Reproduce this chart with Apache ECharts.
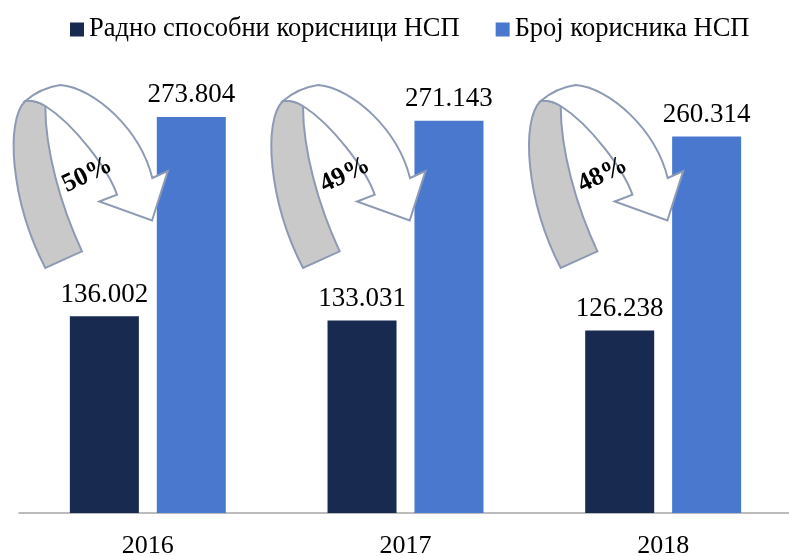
<!DOCTYPE html>
<html>
<head>
<meta charset="utf-8">
<script src="https://cdn.jsdelivr.net/npm/echarts@6/dist/echarts.min.js"></script>
<style>
html,body{margin:0;padding:0;background:#fff;overflow:hidden;}
#chart{width:789px;height:556px;}
</style>
</head>
<body>
<div id="chart"></div>
<script>
const categories = ['2016', '2017', '2018'];
const workingAgeUsers = [136002, 133031, 126238];
const totalUsers = [273804, 271143, 260314];
const seriesNames = ['Радно способни корисници НСП', 'Број корисника НСП'];

const shares = workingAgeUsers.map((v, i) => Math.round(v / totalUsers[i] * 100));

const FONT = '"Liberation Serif", "Times New Roman", serif';
const fmt = v => String(v).replace(/\B(?=(\d{3})+(?!\d))/g, '.');

// decorative curved arrow template (pixel offsets relative to category centre / baseline)
function arrowShapes(cx, base) {
  const T = (x, y) => (cx + x - 147.5).toFixed(1) + ' ' + (base + y - 513).toFixed(1);
  const back = 'M' + T(25, 101) +
    ' C' + T(5, 120) + ' ' + T(10, 200) + ' ' + T(45, 268) +
    ' L' + T(81.7, 251.3) +
    ' C' + T(60, 205) + ' ' + T(45, 150) + ' ' + T(45, 106) +
    ' Q' + T(35, 100) + ' ' + T(25, 101) + ' Z';
  const front = 'M' + T(25, 101) +
    ' Q' + T(40, 88) + ' ' + T(60, 85) +
    ' C' + T(95, 88) + ' ' + T(140, 130) + ' ' + T(152, 178) +
    ' L' + T(167.5, 171) +
    ' L' + T(151.7, 220.5) +
    ' L' + T(99, 201.5) +
    ' L' + T(116.7, 194.7) +
    ' C' + T(108, 170) + ' ' + T(75, 125) + ' ' + T(45, 106) +
    ' Q' + T(35, 100) + ' ' + T(25, 101) + ' Z';
  return { back, front, tx: cx + 87 - 147.5, ty: base + 175 - 513 };
}

const chart = echarts.init(document.getElementById('chart'));
chart.setOption({
  animation: false,
  backgroundColor: '#ffffff',
  legend: {
    data: seriesNames,
    top: 11,
    left: 65,
    itemWidth: 14,
    itemHeight: 14,
    itemGap: 36,
    icon: 'rect',
    textStyle: { fontFamily: FONT, fontSize: 26.5, color: '#000' }
  },
  grid: { left: 19, right: -3, top: 79, bottom: 43, containLabel: false, outerBoundsMode: 'none' },
  xAxis: {
    type: 'category',
    data: categories,
    axisLine: { lineStyle: { color: '#a6a6a6', width: 1.5 } },
    axisTick: { show: false },
    axisLabel: { fontFamily: FONT, fontSize: 26, color: '#000', margin: 20 }
  },
  yAxis: {
    type: 'value', min: 0, max: 300000, show: false,
    splitLine: { show: false }
  },
  series: [
    {
      name: seriesNames[0], type: 'bar', data: workingAgeUsers,
      barWidth: 69, barGap: '26%',
      itemStyle: { color: '#182a50' },
      label: { show: true, position: 'top', distance: 8, fontFamily: FONT, fontSize: 27, color: '#000', formatter: p => fmt(p.value) }
    },
    {
      name: seriesNames[1], type: 'bar', data: totalUsers,
      barWidth: 69, barGap: '26%',
      itemStyle: { color: '#4a78cf' },
      label: { show: true, position: 'top', distance: 8, fontFamily: FONT, fontSize: 27, color: '#000', formatter: p => fmt(p.value) }
    },
    {
      name: 'arrows', type: 'custom', z: 5, clip: false, silent: true,
      data: categories.map((c, i) => [i, shares[i]]),
      encode: { x: 0 },
      renderItem: function (params, api) {
        const i = api.value(0);
        const p = api.coord([i, 0]);
        const s = arrowShapes(p[0], p[1]);
        return {
          type: 'group',
          children: [
            { type: 'path', shape: { pathData: s.back }, style: { fill: '#c9c9c9', stroke: '#8d9ab4', lineWidth: 2 } },
            { type: 'path', shape: { pathData: s.front }, style: { fill: '#ffffff', stroke: '#8d9ab4', lineWidth: 2 } },
            { type: 'text', x: s.tx, y: s.ty, rotation: 0.45,
              style: { text: api.value(1) + '%', fontFamily: FONT, fontWeight: 'bold', fontSize: 26, fill: '#000', align: 'center', verticalAlign: 'middle' } }
          ]
        };
      }
    }
  ]
});
</script>
</body>
</html>
